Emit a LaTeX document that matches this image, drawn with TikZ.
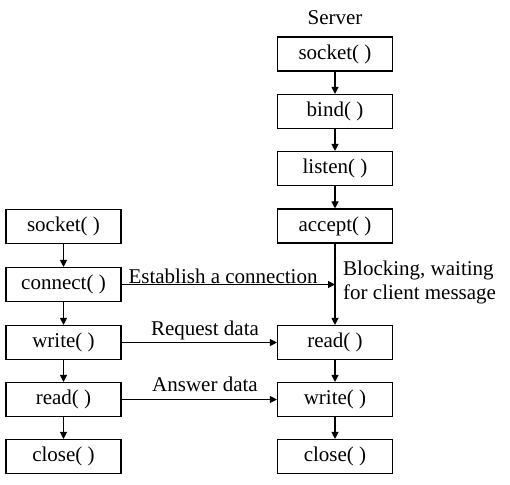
\documentclass[tikz,border=0pt]{standalone}
\usepackage{fontspec}
\setmainfont{Liberation Serif}
\usetikzlibrary{arrows.meta}
\begin{document}
\begin{tikzpicture}[x=1bp,y=-1bp,
  box/.style={draw,line width=1.1bp,minimum width=115bp,minimum height=34bp,inner sep=0pt,font=\fontsize{21bp}{24bp}\selectfont},
  lbl/.style={inner sep=0pt,font=\fontsize{21bp}{24bp}\selectfont},
  arr/.style={line width=1.1bp,-{Triangle[length=7bp,width=7bp]}}]
\useasboundingbox (0,0) rectangle (510,485);
% client
\node[box] (cs) at (63.5,226.5) {socket( )};
\node[box] (cc) at (63.5,284.5) {connect( )};
\node[box] (cw) at (63.5,342.5) {write( )};
\node[box] (cr) at (63.5,399.5) {read( )};
\node[box] (ccl) at (63.5,456.5) {close( )};
% server
\node[lbl,anchor=base] (srv) at (335,25) {Server};
\node[box] (ss) at (335,54) {socket( )};
\node[box] (sb) at (335,111.5) {bind( )};
\node[box] (sl) at (335,168.5) {listen( )};
\node[box] (sa) at (335,226) {accept( )};
\node[box] (sr) at (335,342.5) {read( )};
\node[box] (sw) at (335,399.5) {write( )};
\node[box] (scl) at (335,456.5) {close( )};
% vertical arrows
\draw[arr] (cs) -- (cc);
\draw[arr] (cc) -- (cw);
\draw[arr] (cw) -- (cr);
\draw[arr] (cr) -- (ccl);
\draw[arr] (ss) -- (sb);
\draw[arr] (sb) -- (sl);
\draw[arr] (sl) -- (sa);
\draw[arr] (sa) -- (sr);
\draw[arr] (sr) -- (sw);
\draw[arr] (sw) -- (scl);
% horizontal
\coordinate (join) at (sa.south |- cc.east);
\draw[arr] (cc.east) -- (join);
\draw[arr] (cw) -- (sr);
\draw[arr] (cr) -- (sw);
% labels
\node[lbl,anchor=base] (lconn) at (223,283) {Establish a connection};
\node[lbl,anchor=base] (lreq) at (205,335) {Request data};
\node[lbl,anchor=base] (lans) at (205,391) {Answer data};
\node[lbl,anchor=west,align=left] (lblk) at (343,282) {Blocking, waiting\\for client message};
\end{tikzpicture}
\end{document}
